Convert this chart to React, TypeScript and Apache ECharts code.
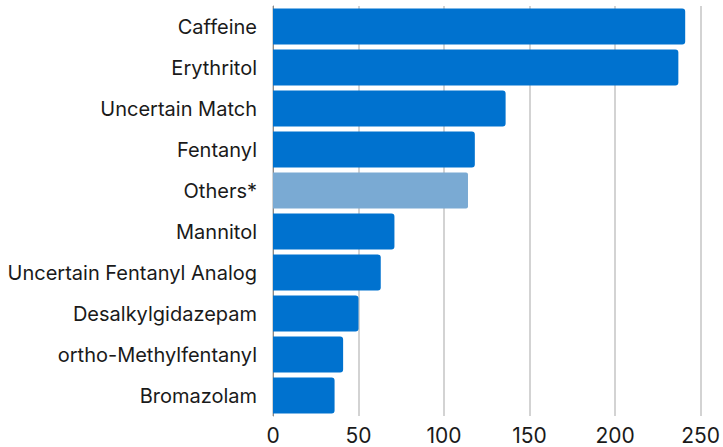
import React, { useEffect, useRef } from "react";
import * as echarts from "echarts";

const categories = [
  "Caffeine",
  "Erythritol",
  "Uncertain Match",
  "Fentanyl",
  "Others*",
  "Mannitol",
  "Uncertain Fentanyl Analog",
  "Desalkylgidazepam",
  "ortho-Methylfentanyl",
  "Bromazolam",
];
const values = [241, 237, 136, 118, 114, 71, 63, 50, 41, 36];
const highlightCategory = "Others*";
const xTicks = [0, 50, 100, 150, 200, 250];

export default function App() {
  const ref = useRef<HTMLDivElement>(null);
  useEffect(() => {
    if (!ref.current) return;
    const chart = echarts.init(ref.current, null, { renderer: "svg" });
    chart.setOption({
      animation: false,
      grid: { left: 273, right: 22, top: 6, bottom: 31, containLabel: false },
      xAxis: {
        type: "value",
        min: xTicks[0],
        max: xTicks[xTicks.length - 1],
        interval: 50,
        axisLine: { show: false },
        axisTick: { show: false },
        splitLine: { show: true, lineStyle: { color: "#c4c4c4", width: 1.5 } },
        axisLabel: {
          color: "#1a1a1a",
          fontSize: 21,
          fontFamily: "Inter",
          margin: 9,
        },
      },
      yAxis: {
        type: "category",
        inverse: true,
        data: categories,
        axisLine: { show: true, lineStyle: { color: "#8a8a8a", width: 1 } },
        axisTick: { show: false },
        axisLabel: {
          color: "#1a1a1a",
          fontSize: 20,
          fontFamily: "Inter",
          margin: 16,
        },
      },
      series: [
        {
          type: "bar",
          barCategoryGap: "12%",
          data: categories.map((c, i) => ({
            value: values[i],
            itemStyle:
              c === highlightCategory
                ? { color: "#7aaad3", borderRadius: [0, 2, 2, 0] }
                : { color: "#0072cf", borderRadius: [0, 3, 3, 0] },
          })),
        },
      ],
    });
    return () => chart.dispose();
  }, []);
  return <div ref={ref} style={{ width: 723, height: 447, position: "absolute", left: 0, top: 0 }} />;
}
